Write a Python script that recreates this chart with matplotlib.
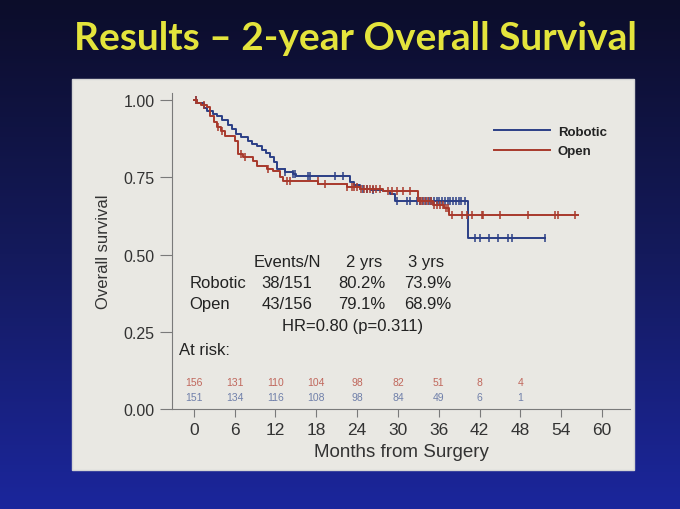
import numpy as np
import matplotlib.pyplot as plt
from matplotlib.patches import Rectangle
from matplotlib.colors import LinearSegmentedColormap

plt.rcParams['font.family'] = ['Liberation Sans', 'DejaVu Sans']

# Kaplan-Meier steps (months, survival)
rob_t = [0, 0.5, 1.5, 2.0, 2.8, 3.4, 4.2, 5.0, 5.6, 6.2, 7.0, 7.9, 8.6, 9.3, 10.0, 10.6,
         11.2, 11.8, 12.3, 13.4, 14.6, 15.0, 22.9, 23.6, 24.4, 26.0, 27.8, 28.8, 29.6, 40.3]
rob_s = [1.0, 0.99, 0.975, 0.965, 0.955, 0.947, 0.935, 0.92, 0.907, 0.89, 0.88, 0.867, 0.858,
         0.851, 0.84, 0.83, 0.815, 0.80, 0.777, 0.767, 0.76, 0.755, 0.735, 0.725, 0.712, 0.71,
         0.705, 0.695, 0.673, 0.555]
rob_end = 51.6
rob_cens = [0.3, 13.4, 14.6, 14.9, 16.8, 17.1, 20.7, 21.9, 24.8, 25.5, 26.3, 29.9, 31.3,
            31.8, 32.8, 33.3, 33.7, 34.1, 34.5, 34.9, 35.3, 35.7, 36.1, 36.5, 36.9, 37.3,
            37.7, 38.1, 38.5, 38.9, 39.3, 39.9, 41.3, 42.1, 43.4, 44.7, 46.2, 46.8, 51.6]

open_t = [0, 0.5, 1.0, 1.9, 2.4, 2.9, 3.4, 4.0, 4.6, 6.0, 6.5, 7.2, 8.7, 9.3, 10.7, 11.6,
          12.6, 13.1, 18.3, 22.5, 24.4, 27.8, 33.0, 35.2, 36.7, 37.5]
open_s = [1.0, 0.99, 0.985, 0.977, 0.948, 0.93, 0.913, 0.9, 0.884, 0.867, 0.825, 0.816,
          0.803, 0.786, 0.777, 0.77, 0.751, 0.738, 0.728, 0.718, 0.712, 0.706, 0.673, 0.66,
          0.65, 0.628]
open_end = 56.5
open_cens = [0.3, 1.5, 3.5, 4.1, 7.0, 7.5, 10.9, 13.7, 14.1, 18.2, 19.3, 22.5, 23.2, 23.6,
             24.0, 24.6, 25.0, 25.4, 25.9, 26.3, 26.8, 27.3, 28.5, 29.1, 29.9, 30.7, 31.8,
             33.2, 33.6, 34.0, 34.4, 34.8, 35.3, 35.7, 36.2, 36.6, 37.0, 37.4, 37.9, 39.4,
             40.1, 40.9, 42.4, 42.5, 45.0, 49.1, 53.1, 53.5, 56.0]

risk_months = [0, 6, 12, 18, 24, 30, 36, 42, 48]
risk_open = [156, 131, 110, 104, 98, 82, 51, 8, 4]
risk_rob = [151, 134, 116, 108, 98, 84, 49, 6, 1]

table_head = ['Events/N', '2 yrs', '3 yrs']
table_rows = [('Robotic', '38/151', '80.2%', '73.9%'),
              ('Open', '43/156', '79.1%', '68.9%')]

blue = '#2b3f86'
red = '#a8392b'

fig = plt.figure(figsize=(6.8, 5.1), dpi=100)

# slide background (dark navy, bluer toward the bottom)
bg = fig.add_axes([0, 0, 1, 1], zorder=-2)
grad = np.linspace(0, 1, 256).reshape(-1, 1)
bg.imshow(grad, aspect='auto', extent=[0, 1, 0, 1], origin='upper',
          cmap=LinearSegmentedColormap.from_list('slide', ['#0c0d2a', '#141a5c', '#1b269c']))
bg.axis('off')

fig.patches.append(Rectangle((72 / 680, 1 - 471 / 510), 562 / 680, 391 / 510,
                             transform=fig.transFigure, facecolor='#e9e8e3',
                             edgecolor='#d4d4d4', zorder=-1))

fig.text(0.522, 0.925, 'Results \u2013 2-year Overall Survival', ha='center', va='center',
         fontsize=28, fontweight='bold', color='#e4e43c', family=['Lato', 'DejaVu Sans'])

ax = fig.add_axes([172 / 680, 1 - 410 / 510, 458 / 680, 316 / 510])
ax.set_facecolor('none')


def km_line(t, s, end, cens, color, label):
    tt = list(t) + [end]
    ss = list(s) + [s[-1]]
    ax.step(tt, ss, where='post', color=color, lw=1.4, label=label)
    idx = np.searchsorted(np.array(t), np.array(cens), side='right') - 1
    ax.plot(cens, np.array(s)[idx], ls='none', marker='|', ms=6, mew=1.1, color=color)


km_line(rob_t, rob_s, rob_end, rob_cens, blue, 'Robotic')
km_line(open_t, open_s, open_end, open_cens, red, 'Open')

ax.set_xlim(-3.2, 64.1)
ax.set_ylim(0, 1.023)
ax.set_xticks(range(0, 61, 6))
ax.set_yticks([0, 0.25, 0.5, 0.75, 1.0])
ax.set_yticklabels(['0.00', '0.25', '0.50', '0.75', '1.00'])
for sp in ['top', 'right']:
    ax.spines[sp].set_visible(False)
for sp in ['left', 'bottom']:
    ax.spines[sp].set_color('#7a7a7a')
ax.tick_params(axis='both', colors='#7a7a7a', labelcolor='#333333')
ax.tick_params(axis='x', length=6, labelsize=12.5)
ax.tick_params(axis='y', length=9, labelsize=11.5)
ax.set_ylabel('Overall survival', fontsize=12, color='#333333', labelpad=9)
ax.set_xlabel('Months from Surgery', fontsize=13.5, color='#333333', labelpad=4)

leg = ax.legend(loc='upper right', bbox_to_anchor=(0.975, 0.935), frameon=False,
                handlelength=4.2, handletextpad=0.6, labelspacing=0.55,
                prop={'weight': 'bold', 'size': 9.5})
for txt in leg.get_texts():
    txt.set_color('#222222')

# summary table
tk = dict(fontsize=12, color='#222222', va='center')
for lab, xm in zip(table_head, [13.7, 25.0, 34.1]):
    ax.text(xm, 0.479, lab, ha='center', **tk)
for (name, ev, y2, y3), yy in zip(table_rows, [0.411, 0.34]):
    ax.text(-0.6, yy, name, ha='left', **tk)
    ax.text(13.7, yy, ev, ha='center', **tk)
    ax.text(24.7, yy, y2, ha='center', **tk)
    ax.text(34.4, yy, y3, ha='center', **tk)
ax.text(23.4, 0.269, 'HR=0.80 (p=0.311)', ha='center', **tk)
ax.text(-2.1, 0.194, 'At risk:', ha='left', **tk)

for m, a, b in zip(risk_months, risk_open, risk_rob):
    ax.text(m, 0.087, str(a), ha='center', va='center', fontsize=7.5, color='#c0675c')
    ax.text(m, 0.039, str(b), ha='center', va='center', fontsize=7.5, color='#7080aa')

fig.savefig('out.png', dpi=100)
